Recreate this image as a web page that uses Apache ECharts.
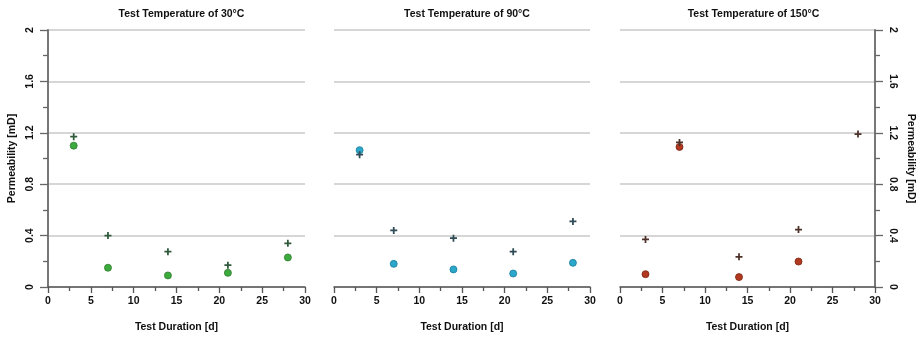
<!DOCTYPE html>
<html><head><meta charset="utf-8">
<script src="https://cdn.jsdelivr.net/npm/echarts@6/dist/echarts.min.js"></script>
<style>html,body{margin:0;padding:0;background:#fff}#c{width:917px;height:338px}</style>
</head><body><div id="c"></div>
<script>
const titles = ['Test Temperature of 30°C', 'Test Temperature of 90°C', 'Test Temperature of 150°C'];
const xTicks = [0, 5, 10, 15, 20, 25, 30];
const yTicks = [0, 0.4, 0.8, 1.2, 1.6, 2];
// panel 30°C
const days30 = [3, 7, 14, 21, 28];
const circ30 = [1.10, 0.15, 0.09, 0.11, 0.23];
const cross30 = [1.17, 0.40, 0.275, 0.17, 0.34];
// panel 90°C
const days90 = [3, 7, 14, 21, 28];
const circ90 = [1.065, 0.18, 0.137, 0.105, 0.188];
const cross90 = [1.03, 0.44, 0.38, 0.275, 0.51];
// panel 150°C
const days150c = [3, 7, 14, 21];
const circ150 = [0.10, 1.09, 0.077, 0.198];
const days150x = [3, 7, 14, 21, 28];
const cross150 = [0.37, 1.125, 0.235, 0.447, 1.19];

const circleColors = ['#3daa3d', '#2ba7cc', '#b2391f'];
const circleBorders = ['#2d7a2d', '#1c7c98', '#7a2412'];
const crossColors = ['#2f5a3c', '#2e4b55', '#4e3128'];

const F = '"Liberation Sans", Arial, sans-serif';
const crossPath = 'path://M-1,-4H1V-1H4V1H1V4H-1V1H-4V-1H-1Z';

const grids = [
  {left: 48, width: 257, top: 30, height: 257},
  {left: 334, width: 256, top: 30, height: 257},
  {left: 620, width: 257, top: 30, height: 257}
];
const pairs = [
  [days30, circ30, days30, cross30],
  [days90, circ90, days90, cross90],
  [days150c, circ150, days150x, cross150]
];

const xAxis = grids.map((g, i) => ({
  gridIndex: i, type: 'value', min: 0, max: 30, interval: 5,
  name: 'Test Duration [d]', nameLocation: 'middle', nameGap: 35,
  nameTextStyle: {fontFamily: F, fontWeight: 'bold', fontSize: 10.5, color: '#111'},
  axisLine: {show: true, onZero: false, lineStyle: {color: '#555', width: 1.5}},
  axisTick: {show: true, inside: false, length: 6, lineStyle: {color: '#555', width: 1.3}},
  minorTick: {show: true, splitNumber: 2, length: 4, lineStyle: {color: '#555', width: 1.3}},
  axisLabel: {fontFamily: F, fontWeight: 'bold', fontSize: 10.5, color: '#111', margin: 9,
    formatter: v => xTicks.includes(v) ? String(v) : ''},
  splitLine: {show: false}
}));

const yAxis = grids.map((g, i) => ({
  gridIndex: i, type: 'value', min: 0, max: 2, interval: 0.4,
  position: i === 2 ? 'right' : 'left',
  name: i === 1 ? '' : 'Permeability [mD]', nameLocation: 'middle', nameGap: 30,
  nameRotate: i === 2 ? -90 : 90,
  nameTextStyle: {fontFamily: F, fontWeight: 'bold', fontSize: 10.5, color: '#111'},
  axisLine: {show: i !== 1, onZero: false, lineStyle: {color: '#777', width: 2}},
  axisTick: {show: i !== 1, inside: false, length: 8, lineStyle: {color: '#666', width: 1.3}},
  minorTick: {show: i !== 1, splitNumber: 2, length: 5, lineStyle: {color: '#666', width: 1.3}},
  axisLabel: {show: i !== 1, fontFamily: F, fontWeight: 'bold', fontSize: 10.5, color: '#111',
    rotate: i === 2 ? -90 : 90, margin: 12,
    formatter: v => { const t = yTicks.find(k => Math.abs(k - v) < 1e-6); return t === undefined ? '' : String(t); }},
  splitLine: {show: true, lineStyle: {color: '#c9c9c9', width: 1.5}}
}));

const series = [];
pairs.forEach((p, i) => {
  series.push({
    type: 'scatter', xAxisIndex: i, yAxisIndex: i, symbol: 'circle', symbolSize: 7,
    itemStyle: {color: circleColors[i], borderColor: circleBorders[i], borderWidth: 0.8, opacity: 1},
    data: p[0].map((d, k) => [d, p[1][k]]), z: 2
  });
  series.push({
    type: 'scatter', xAxisIndex: i, yAxisIndex: i, symbol: crossPath, symbolSize: 7,
    itemStyle: {color: crossColors[i], opacity: 1},
    data: p[2].map((d, k) => [d, p[3][k]]), z: 3
  });
});

const chart = echarts.init(document.getElementById('c'), null, {renderer: 'canvas'});
chart.setOption({
  animation: false,
  backgroundColor: '#fff',
  title: titles.map((t, i) => ({
    text: t, left: grids[i].left + grids[i].width / 2, top: 4, textAlign: 'center',
    textStyle: {fontFamily: F, fontWeight: 'bold', fontSize: 10.5, color: '#111'}
  })),
  grid: grids,
  xAxis: xAxis,
  yAxis: yAxis,
  series: series
});
</script></body></html>
